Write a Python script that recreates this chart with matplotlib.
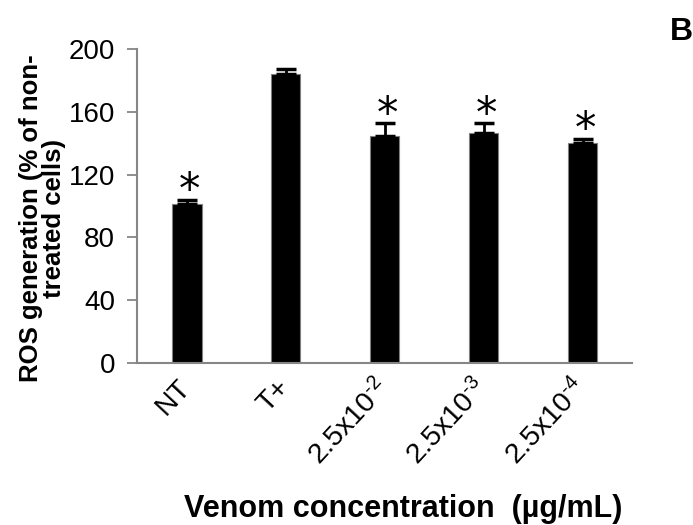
import matplotlib
matplotlib.use("Agg")
import matplotlib.pyplot as plt
import numpy as np

plt.rcParams['font.family'] = ['Liberation Sans', 'DejaVu Sans']
plt.rcParams['mathtext.fontset'] = 'custom'
plt.rcParams['mathtext.rm'] = 'Liberation Sans'
plt.rcParams['mathtext.it'] = 'Liberation Sans'

categories = ['NT', 'T+', '2.5x10$^{\u20102}$', '2.5x10$^{\u20103}$', '2.5x10$^{\u20104}$']
values = [101, 184.5, 145, 146.5, 140]
errors = [3, 3, 8, 6.5, 3]
significant = [True, False, True, True, True]

fig = plt.figure(figsize=(6.93, 5.25), dpi=100)
ax = fig.add_axes([0.198, 0.309, 0.714, 0.597])

x = np.arange(len(categories))
ax.bar(x, values, width=0.3, color='black', edgecolor='#7f7f7f', linewidth=0.8, zorder=2)
ax.errorbar(x, values, yerr=[np.zeros(len(values)), errors], fmt='none',
            ecolor='black', elinewidth=2, capsize=7, capthick=2.5, zorder=3)
for xi, v, e, s in zip(x, values, errors, significant):
    if s:
        ax.text(xi + 0.03, v + e - 8, '*', ha='center', va='bottom', fontsize=31,
                family='DejaVu Sans', color='black')

ax.set_xlim(-0.5, 4.5)
ax.set_ylim(0, 200)
ax.set_yticks([0, 40, 80, 120, 160, 200])
ax.tick_params(axis='y', labelsize=20, direction='out', length=7, width=1.3,
               color='#868686', pad=9)
ax.tick_params(axis='x', length=0, pad=15)
ax.set_xticks(x)
ax.set_xticklabels(categories, rotation=47, ha='right', va='center',
                   rotation_mode='anchor', fontsize=20.5)
for sp in ['top', 'right']:
    ax.spines[sp].set_visible(False)
for sp in ['left', 'bottom']:
    ax.spines[sp].set_color('#868686')
    ax.spines[sp].set_linewidth(1.5)

fig.text(0.062, 1 - 218 / 525, 'ROS generation (% of non-\ntreated cells)', rotation=90,
         ha='center', va='center', fontsize=18.5, fontweight='bold', linespacing=0.95)
fig.text(403 / 693, 1 - 517 / 525, 'Venom concentration  (µg/mL)', ha='center',
         va='baseline', fontsize=22, fontweight='bold')
fig.text(681 / 693, 1 - 32 / 525, 'B', ha='center', va='center', fontsize=23,
         fontweight='bold')

fig.savefig('out.png', dpi=100)
